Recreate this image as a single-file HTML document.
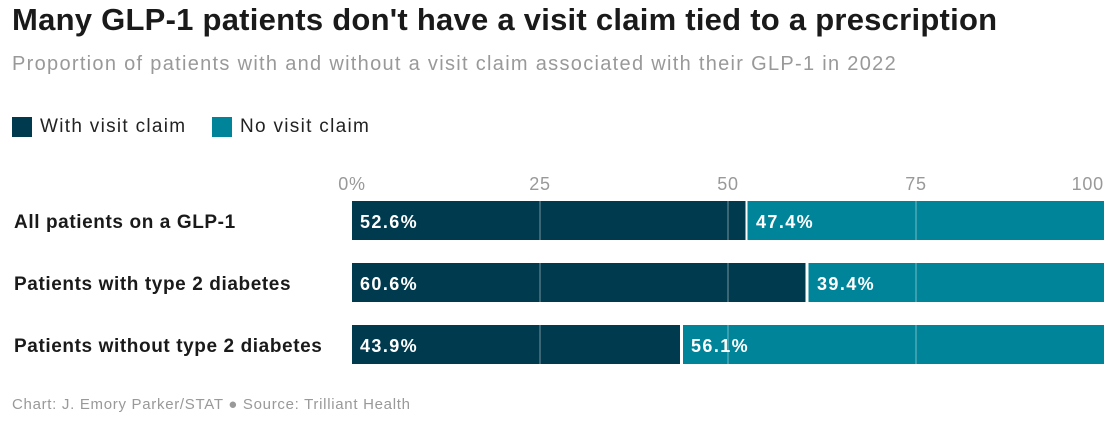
<!DOCTYPE html>
<html><head><meta charset="utf-8"><style>
body{margin:0;width:1114px;height:423px;background:#fff;font-family:"Liberation Sans",sans-serif;overflow:hidden;position:relative}
.t{position:absolute;left:12px;top:2px;font-size:31px;font-weight:bold;color:#1a1a1a;letter-spacing:0.25px}
.s{position:absolute;left:12px;top:53px;font-size:20px;color:#999;letter-spacing:1.3px}
.leg{position:absolute;top:116px;font-size:19px;color:#222;display:flex;align-items:center;letter-spacing:1.3px}
.sw{width:20px;height:20px;margin-right:8px;display:inline-block}
.f{position:absolute;left:12px;top:396px;font-size:15px;color:#999;letter-spacing:0.7px}
</style></head><body>
<div class="t">Many GLP-1 patients don't have a visit claim tied to a prescription</div>
<div class="s">Proportion of patients with and without a visit claim associated with their GLP-1 in 2022</div>
<div class="leg" style="left:12px"><span class="sw" style="background:#003a4f"></span>With visit claim</div>
<div class="leg" style="left:212px"><span class="sw" style="background:#00849a"></span>No visit claim</div>
<svg width="1114" height="423" style="position:absolute;left:0;top:0" font-family="Liberation Sans, sans-serif">
<g fill="#999" font-size="18" letter-spacing="0.8">
<text x="352" y="190" text-anchor="middle">0%</text>
<text x="540" y="190" text-anchor="middle">25</text>
<text x="728" y="190" text-anchor="middle">50</text>
<text x="916" y="190" text-anchor="middle">75</text>
<text x="1104" y="190" text-anchor="end">100</text>
</g>
<g font-size="19" font-weight="bold" fill="#1a1a1a" letter-spacing="0.6">
<text x="14" y="228">All patients on a GLP-1</text>
<text x="14" y="290">Patients with type 2 diabetes</text>
<text x="14" y="352">Patients without type 2 diabetes</text>
</g>
<rect x="352" y="201" width="393.5" height="39" fill="#003a4f"/>
<rect x="747.5" y="201" width="356.5" height="39" fill="#00849a"/>
<rect x="352" y="263" width="453.5" height="39" fill="#003a4f"/>
<rect x="808.5" y="263" width="295.5" height="39" fill="#00849a"/>
<rect x="352" y="325" width="328" height="39" fill="#003a4f"/>
<rect x="683" y="325" width="421" height="39" fill="#00849a"/>
<g stroke="#fff" stroke-opacity="0.45" stroke-width="1">
<line x1="540" y1="201" x2="540" y2="364"/><line x1="728" y1="201" x2="728" y2="364"/><line x1="916" y1="201" x2="916" y2="364"/>
</g>
<g fill="#fff" font-size="18" font-weight="bold" letter-spacing="1.4">
<text x="360" y="228">52.6%</text><text x="756" y="228">47.4%</text>
<text x="360" y="290">60.6%</text><text x="817" y="290">39.4%</text>
<text x="360" y="352">43.9%</text><text x="691" y="352">56.1%</text>
</g>
</svg>
<div class="f">Chart: J. Emory Parker/STAT ● Source: Trilliant Health</div>
</body></html>
